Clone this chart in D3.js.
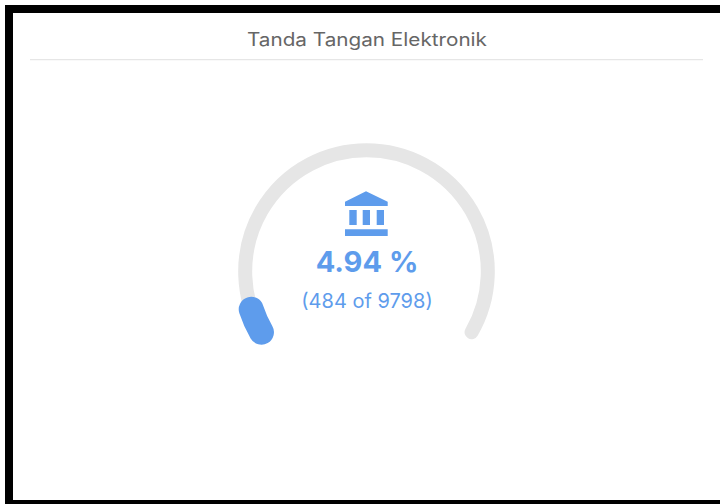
<!DOCTYPE html>
<html><head><meta charset="utf-8">
<script src="https://cdn.jsdelivr.net/npm/d3@7/dist/d3.min.js"></script>
<style>html,body{margin:0;padding:0;background:#fff;overflow:hidden}svg{display:block}</style>
</head><body><div id="chart"></div>
<script>
const titleText = "Tanda Tangan Elektronik";
const filled = [484];
const total = [9798];
const percentLabel = ["4.94 %"];
const countLabel = ["(484 of 9798)"];

const W = 720, H = 504;
const svg = d3.select("#chart").append("svg").attr("width", W).attr("height", H);
svg.append("rect").attr("width", W).attr("height", H).attr("fill", "#fff");

// screenshot frame
svg.append("rect").attr("x", 5).attr("y", 5).attr("width", W - 5).attr("height", 8).attr("fill", "#000");
svg.append("rect").attr("x", 5).attr("y", 5).attr("width", 8).attr("height", H - 5).attr("fill", "#000");
svg.append("rect").attr("x", 5).attr("y", 500).attr("width", W - 5).attr("height", 4).attr("fill", "#000");

svg.append("text").attr("x", 367).attr("y", 46).attr("text-anchor", "middle")
  .attr("font-family", "Inter, 'Open Sans', sans-serif").attr("font-size", 18)
  .attr("textLength", 240).attr("lengthAdjust", "spacingAndGlyphs")
  .attr("fill", "#666").text(titleText);
svg.append("line").attr("x1", 30).attr("x2", 703).attr("y1", 59.6).attr("y2", 59.6)
  .attr("stroke", "#e6e6e6").attr("stroke-width", 1.1);

const cx = 366.5, cy = 271.5, r = 121.3;
const g = svg.append("g").attr("transform", `translate(${cx},${cy})`);
const a0 = -120 * Math.PI / 180, a1 = 120 * Math.PI / 180;
const angle = d3.scaleLinear().domain([0, total[0]]).range([a0, a1]);
function arcLine(from, to) {
  const p = d3.path();
  p.arc(0, 0, r, from - Math.PI / 2, to - Math.PI / 2);
  return p.toString();
}

g.append("path").attr("d", arcLine(a0, angle(total[0])))
  .attr("fill", "none").attr("stroke", "#e6e6e6").attr("stroke-width", 14).attr("stroke-linecap", "round");
g.append("path").attr("d", arcLine(a0, angle(filled[0])))
  .attr("fill", "none").attr("stroke", "#5e9cec").attr("stroke-width", 25).attr("stroke-linecap", "round");

// bank icon
svg.append("path").attr("fill", "#5e9cec")
  .attr("d", "M366 191.2L387.7 201.7V206H345V201.7Z M349.3 210H356.7V225H349.3Z M362.7 210H370V225H362.7Z M376.7 210H384V225H376.7Z M345 229.3H387.7V236H345Z");

svg.append("text").attr("x", 367).attr("y", 272).attr("text-anchor", "middle")
  .attr("font-family", "Inter, sans-serif").attr("font-weight", 700).attr("font-size", 29)
  .attr("fill", "#5e9cec").text(percentLabel[0]);
svg.append("text").attr("x", 367).attr("y", 307.5).attr("text-anchor", "middle")
  .attr("font-family", "Inter, sans-serif").attr("font-weight", 400).attr("font-size", 20)
  .attr("fill", "#5e9cec").text(countLabel[0]);
</script></body></html>
